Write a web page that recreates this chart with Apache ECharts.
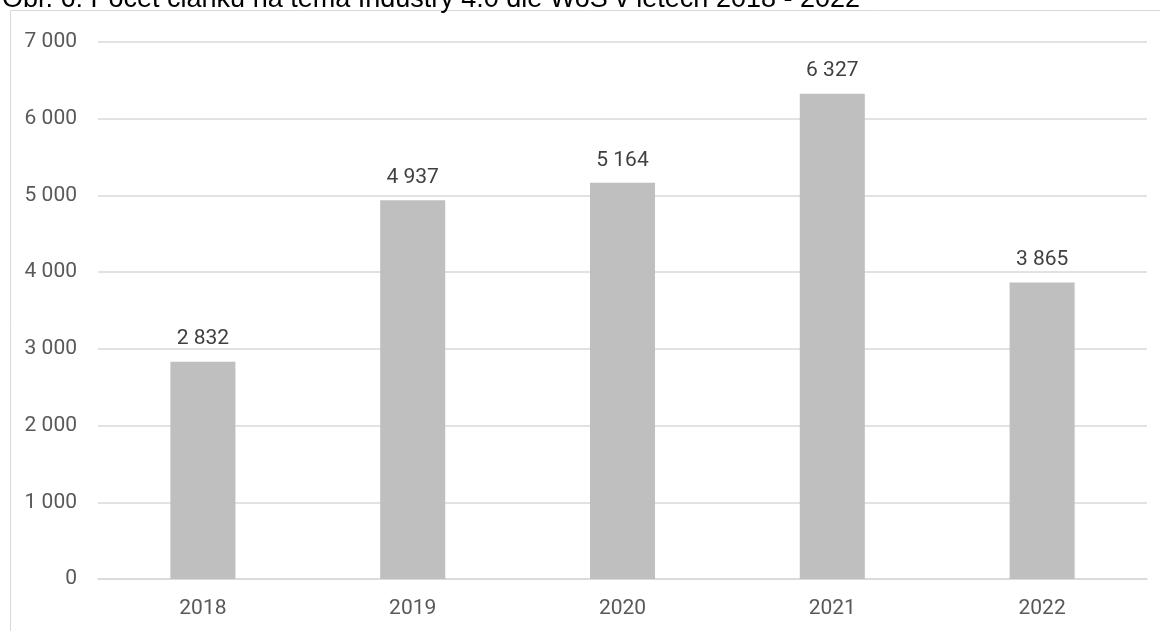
<!DOCTYPE html>
<html>
<head>
<meta charset="utf-8">
<script src="https://cdn.jsdelivr.net/npm/echarts@6/dist/echarts.min.js"></script>
<style>
  html, body { margin: 0; padding: 0; background: #fff; }
  #chart { width: 1160px; height: 631px; }
</style>
</head>
<body>
<div id="chart"></div>
<script>
const years = ['2018', '2019', '2020', '2021', '2022'];
const articles = [2832, 4937, 5164, 6327, 3865];
const titleText = 'Obr. 6: Počet článků na téma Industry 4.0 dle WoS v letech 2018 - 2022';

// "7 000" style - space as thousands separator
const fmt = v => String(v).replace(/\B(?=(\d{3})+(?!\d))/g, ' ');

const chart = echarts.init(document.getElementById('chart'));
chart.setOption({
  animation: false,
  title: {
    text: titleText,
    left: -3,
    top: -19,
    textStyle: {
      color: '#000',
      fontFamily: 'Liberation Sans',
      fontWeight: 'normal',
      fontSize: 27
    }
  },
  graphic: [
    {
      type: 'rect',
      shape: { x: 10.5, y: 10.5, width: 1200, height: 700 },
      style: { fill: 'none', stroke: '#d9d9d9', lineWidth: 1 },
      z: -1
    }
  ],
  grid: {
    left: 98,
    right: 13,
    top: 42,
    bottom: 52
  },
  xAxis: {
    type: 'category',
    data: years,
    axisLine: { lineStyle: { color: '#d9d9d9', width: 1.5 } },
    axisTick: { show: false },
    axisLabel: {
      color: '#595959',
      fontFamily: 'Roboto',
      fontSize: 21,
      margin: 19
    }
  },
  yAxis: {
    type: 'value',
    min: 0,
    max: 7000,
    interval: 1000,
    axisLine: { show: false },
    axisTick: { show: false },
    splitLine: { lineStyle: { color: '#d9d9d9', width: 1.5 } },
    axisLabel: {
      color: '#595959',
      fontFamily: 'Roboto',
      fontSize: 21,
      margin: 21,
      formatter: fmt
    }
  },
  series: [
    {
      type: 'bar',
      data: articles,
      barWidth: '31%',
      itemStyle: { color: '#bfbfbf' },
      label: {
        show: true,
        position: 'top',
        distance: 12,
        color: '#404040',
        fontFamily: 'Roboto',
        fontSize: 21,
        formatter: p => fmt(p.value)
      }
    }
  ]
});
</script>
</body>
</html>
